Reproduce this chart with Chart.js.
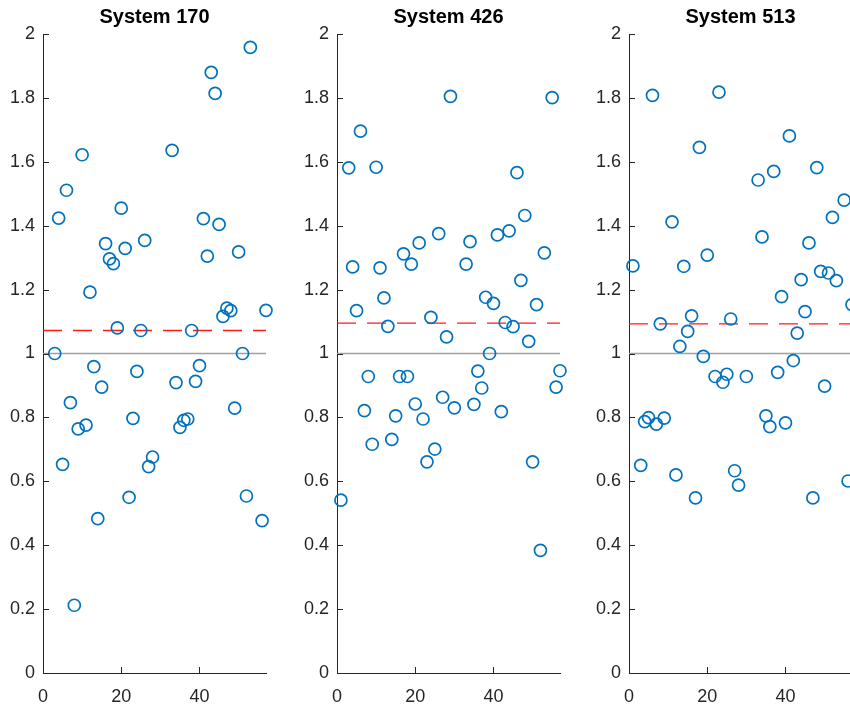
<!DOCTYPE html>
<html>
<head>
<meta charset="utf-8">
<script src="https://cdn.jsdelivr.net/npm/chart.js@4.4.1/dist/chart.umd.min.js"></script>
<style>
  html, body { margin: 0; padding: 0; overflow: hidden; background: #fff; }
  #wrap { position: relative; width: 850px; height: 704px; overflow: hidden; }
  .panel { position: absolute; top: 0; width: 309px; height: 704px; }
</style>
</head>
<body>
<div id="wrap">
  <div class="panel" style="left:0px"><canvas id="c170"></canvas></div>
  <div class="panel" style="left:294px"><canvas id="c426"></canvas></div>
  <div class="panel" style="left:586px"><canvas id="c513"></canvas></div>
</div>
<script>
// run index on the x axis
const runs = [
   1,  2,  3,  4,  5,  6,  7,  8,  9, 10,
  11, 12, 13, 14, 15, 16, 17, 18, 19, 20,
  21, 22, 23, 24, 25, 26, 27, 28, 29, 30,
  31, 32, 33, 34, 35, 36, 37, 38, 39, 40,
  41, 42, 43, 44, 45, 46, 47, 48, 49, 50,
  51, 52, 53, 54, 55, 56, 57
];

// ratio per run, null = no point
const sys170 = [
  null,  null,  1.000, 1.424, 0.653, 1.511, 0.846, 0.212, 0.764, 1.622,
  0.776, 1.192, 0.959, 0.483, 0.895, 1.344, 1.296, 1.281, 1.080, 1.455,
  1.329, 0.550, 0.797, 0.944, 1.072, 1.354, 0.646, 0.676, null,  null,
  null,  null,  1.636, 0.909, 0.769, 0.791, 0.795, 1.072, 0.913, 0.962,
  1.422, 1.305, 1.880, 1.814, 1.404, 1.116, 1.142, 1.134, 0.829, 1.318,
  1.000, 0.554, 1.958, null,  null,  0.477, 1.135
];
const sys426 = [
  0.541, null,  1.581, 1.271, 1.134, 1.696, 0.821, 0.928, 0.716, 1.583,
  1.268, 1.174, 1.085, 0.731, 0.805, 0.928, 1.312, 0.928, 1.280, 0.842,
  1.346, 0.795, 0.661, 1.113, 0.701, 1.375, 0.863, 1.052, 1.805, 0.830,
  null,  null,  1.280, 1.350, 0.841, 0.945, 0.892, 1.176, 1.000, 1.157,
  1.371, 0.818, 1.097, 1.384, 1.084, 1.566, 1.229, 1.432, 1.038, 0.661,
  1.153, 0.384, 1.315, null,  1.801, 0.895, 0.946
];
const sys513 = [
  1.274, null,  0.650, 0.787, 0.799, 1.808, 0.779, 1.093, 0.798, null,
  1.412, 0.620, 1.022, 1.273, 1.069, 1.118, 0.548, 1.645, 0.991, 1.308,
  null,  0.928, 1.818, 0.910, 0.935, 1.108, 0.633, 0.588, null,  0.928,
  null,  null,  1.543, 1.365, 0.805, 0.771, 1.570, 0.941, 1.178, 0.783,
  1.681, 0.978, 1.064, 1.231, 1.131, 1.346, 0.548, 1.582, 1.257, 0.898,
  1.252, 1.426, 1.228, null,  1.480, 0.601, 1.153
];

const titles = ['System 170', 'System 426', 'System 513'];
const meanLevels = [1.072, 1.095, 1.093];   // red dashed lines
const unityLevel = 1;                        // grey reference line
const xRange = [0, 57];
const xTicks = [0, 20, 40];
const yTicks = [0, 0.2, 0.4, 0.6, 0.8, 1, 1.2, 1.4, 1.6, 1.8, 2];

const axisColor = '#262626';
Chart.defaults.font.family = '"Liberation Sans", Arial, Helvetica, sans-serif';

// MATLAB style ticks pointing into the plot
const inwardTicks = {
  id: 'inwardTicks',
  afterDraw(chart) {
    const { ctx, chartArea, scales } = chart;
    ctx.save();
    ctx.strokeStyle = axisColor;
    ctx.lineWidth = 1;
    ctx.beginPath();
    xTicks.forEach(v => {
      const px = Math.round(scales.x.getPixelForValue(v)) + 0.5;
      ctx.moveTo(px, chartArea.bottom);
      ctx.lineTo(px, chartArea.bottom - 6);
    });
    yTicks.forEach(v => {
      const py = Math.round(scales.y.getPixelForValue(v)) + 0.5;
      ctx.moveTo(chartArea.left, py);
      ctx.lineTo(chartArea.left + 6, py);
    });
    ctx.stroke();
    ctx.restore();
  }
};

function makePanel(id, title, values, mean) {
  const pts = [];
  runs.forEach((r, i) => {
    if (values[i] !== null) pts.push({ x: r, y: values[i] });
  });

  new Chart(document.getElementById(id), {
    type: 'scatter',
    data: {
      datasets: [{
        data: pts,
        borderColor: '#0072BD',
        backgroundColor: 'rgba(0,0,0,0)',
        pointRadius: 6,
        pointBorderWidth: 1.7,
        clip: false,
        order: 0
      }, {
        data: [{ x: xRange[0], y: mean }, { x: xRange[1], y: mean }],
        showLine: true,
        borderColor: '#ff1a1a',
        borderWidth: 1.3,
        borderDash: [19, 11],
        pointRadius: 0,
        order: 1
      }, {
        data: [{ x: xRange[0], y: unityLevel }, { x: xRange[1], y: unityLevel }],
        showLine: true,
        borderColor: '#a0a0a0',
        borderWidth: 1.5,
        pointRadius: 0,
        order: 2
      }]
    },
    options: {
      responsive: true,
      maintainAspectRatio: false,
      animation: false,
      layout: { padding: 0 },
      plugins: {
        legend: { display: false },
        tooltip: { enabled: false },
        title: {
          display: true,
          text: title,
          color: '#000',
          font: { size: 20, weight: 'bold' },
          padding: { top: 5, bottom: 5 }
        }
      },
      scales: {
        x: {
          type: 'linear',
          min: xRange[0],
          max: xRange[1],
          afterBuildTicks: s => { s.ticks = xTicks.map(v => ({ value: v })); },
          afterFit: s => { s.height = 31; },
          grid: { display: false, drawTicks: false },
          border: { display: true, color: axisColor, width: 1 },
          ticks: { color: axisColor, font: { size: 18 }, padding: 13, maxRotation: 0 }
        },
        y: {
          type: 'linear',
          min: 0,
          max: 2,
          afterBuildTicks: s => { s.ticks = yTicks.map(v => ({ value: v })); },
          afterFit: s => { s.width = 43; },
          grid: { display: false, drawTicks: false },
          border: { display: true, color: axisColor, width: 1 },
          ticks: { color: axisColor, font: { size: 18 }, padding: 8, callback: v => String(v) }
        },
        // empty axis so the title centres over the plot area
        yPad: {
          type: 'linear',
          position: 'right',
          afterFit: s => { s.width = 43; },
          grid: { display: false, drawTicks: false },
          border: { display: false },
          ticks: { display: false }
        }
      }
    },
    plugins: [inwardTicks]
  });
}

makePanel('c170', titles[0], sys170, meanLevels[0]);
makePanel('c426', titles[1], sys426, meanLevels[1]);
makePanel('c513', titles[2], sys513, meanLevels[2]);
</script>
</body>
</html>
